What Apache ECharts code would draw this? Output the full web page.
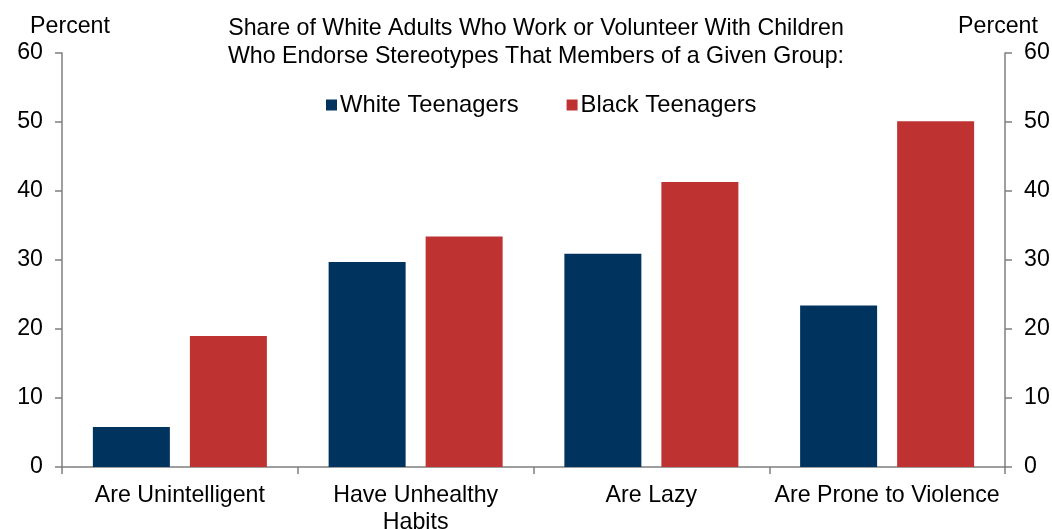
<!DOCTYPE html>
<html>
<head>
<meta charset="utf-8">
<script src="https://cdn.jsdelivr.net/npm/echarts@6/dist/echarts.min.js"></script>
<style>
  html, body { margin: 0; padding: 0; background: #fff; }
  #chart { width: 1052px; height: 529px; }
</style>
</head>
<body>
<div id="chart"></div>
<script>
// Stereotype categories and the share (percent) endorsing each one
var categories = ['Are Unintelligent', 'Have Unhealthy\nHabits', 'Are Lazy', 'Are Prone to Violence'];
var whiteTeens = [5.8, 29.7, 30.9, 23.4];
var blackTeens = [19.0, 33.4, 41.3, 50.1];
var seriesNames = ['White Teenagers', 'Black Teenagers'];
var titleLines = ['Share of White Adults Who Work or Volunteer With Children',
                  'Who Endorse Stereotypes That Members of a Given Group:'];

var FONT = 'Liberation Sans, Arial, sans-serif';
var SIZE = 23.2;
var AXIS_COLOR = '#7f7f7f';

var chart = echarts.init(document.getElementById('chart'));

function valueAxis(position) {
  return {
    type: 'value',
    position: position,
    min: 0, max: 60, interval: 10,
    axisLine: { show: true, lineStyle: { color: AXIS_COLOR, width: 1.5 } },
    axisTick: { show: true, inside: false, length: 7, lineStyle: { color: AXIS_COLOR, width: 1.5 } },
    axisLabel: { margin: 19, color: '#000', fontFamily: FONT, fontSize: SIZE },
    splitLine: { show: false }
  };
}

chart.setOption({
  animation: false,
  backgroundColor: '#fff',
  title: [
    {
      text: titleLines.join('\n'),
      left: 531, top: 10, textAlign: 'center',
      textStyle: { fontFamily: FONT, fontSize: SIZE, fontWeight: 'normal', color: '#000', lineHeight: 28 }
    },
    {
      text: 'Percent', left: 65, top: 10, textAlign: 'center',
      textStyle: { fontFamily: FONT, fontSize: SIZE, fontWeight: 'normal', color: '#000' }
    },
    {
      text: 'Percent', left: 993, top: 10, textAlign: 'center',
      textStyle: { fontFamily: FONT, fontSize: SIZE, fontWeight: 'normal', color: '#000' }
    }
  ],
  legend: {
    data: seriesNames,
    top: 88, left: 321,
    itemWidth: 11, itemHeight: 11, itemGap: 48,
    icon: 'rect',
    textStyle: { fontFamily: FONT, fontSize: 23.8, color: '#000', padding: [0, 0, 0, -2] }
  },
  grid: { left: 62, right: 47, top: 53, bottom: 62, containLabel: false, outerBoundsMode: 'none' },
  xAxis: {
    type: 'category',
    data: categories,
    axisLine: { show: true, onZero: false, lineStyle: { color: AXIS_COLOR, width: 1.5 } },
    axisTick: { show: true, alignWithLabel: false, length: 7, lineStyle: { color: AXIS_COLOR, width: 1.5 } },
    axisLabel: { margin: 15, interval: 0, color: '#000', fontFamily: FONT, fontSize: SIZE, lineHeight: 27 }
  },
  yAxis: [valueAxis('left'), valueAxis('right')],
  series: [
    {
      name: seriesNames[0], type: 'bar', yAxisIndex: 0,
      data: whiteTeens, barWidth: 77, barGap: '26%',
      itemStyle: { color: '#00345e' }
    },
    {
      name: seriesNames[1], type: 'bar', yAxisIndex: 0,
      data: blackTeens, barWidth: 77,
      itemStyle: { color: '#bf3232' }
    }
  ]
});
</script>
</body>
</html>
